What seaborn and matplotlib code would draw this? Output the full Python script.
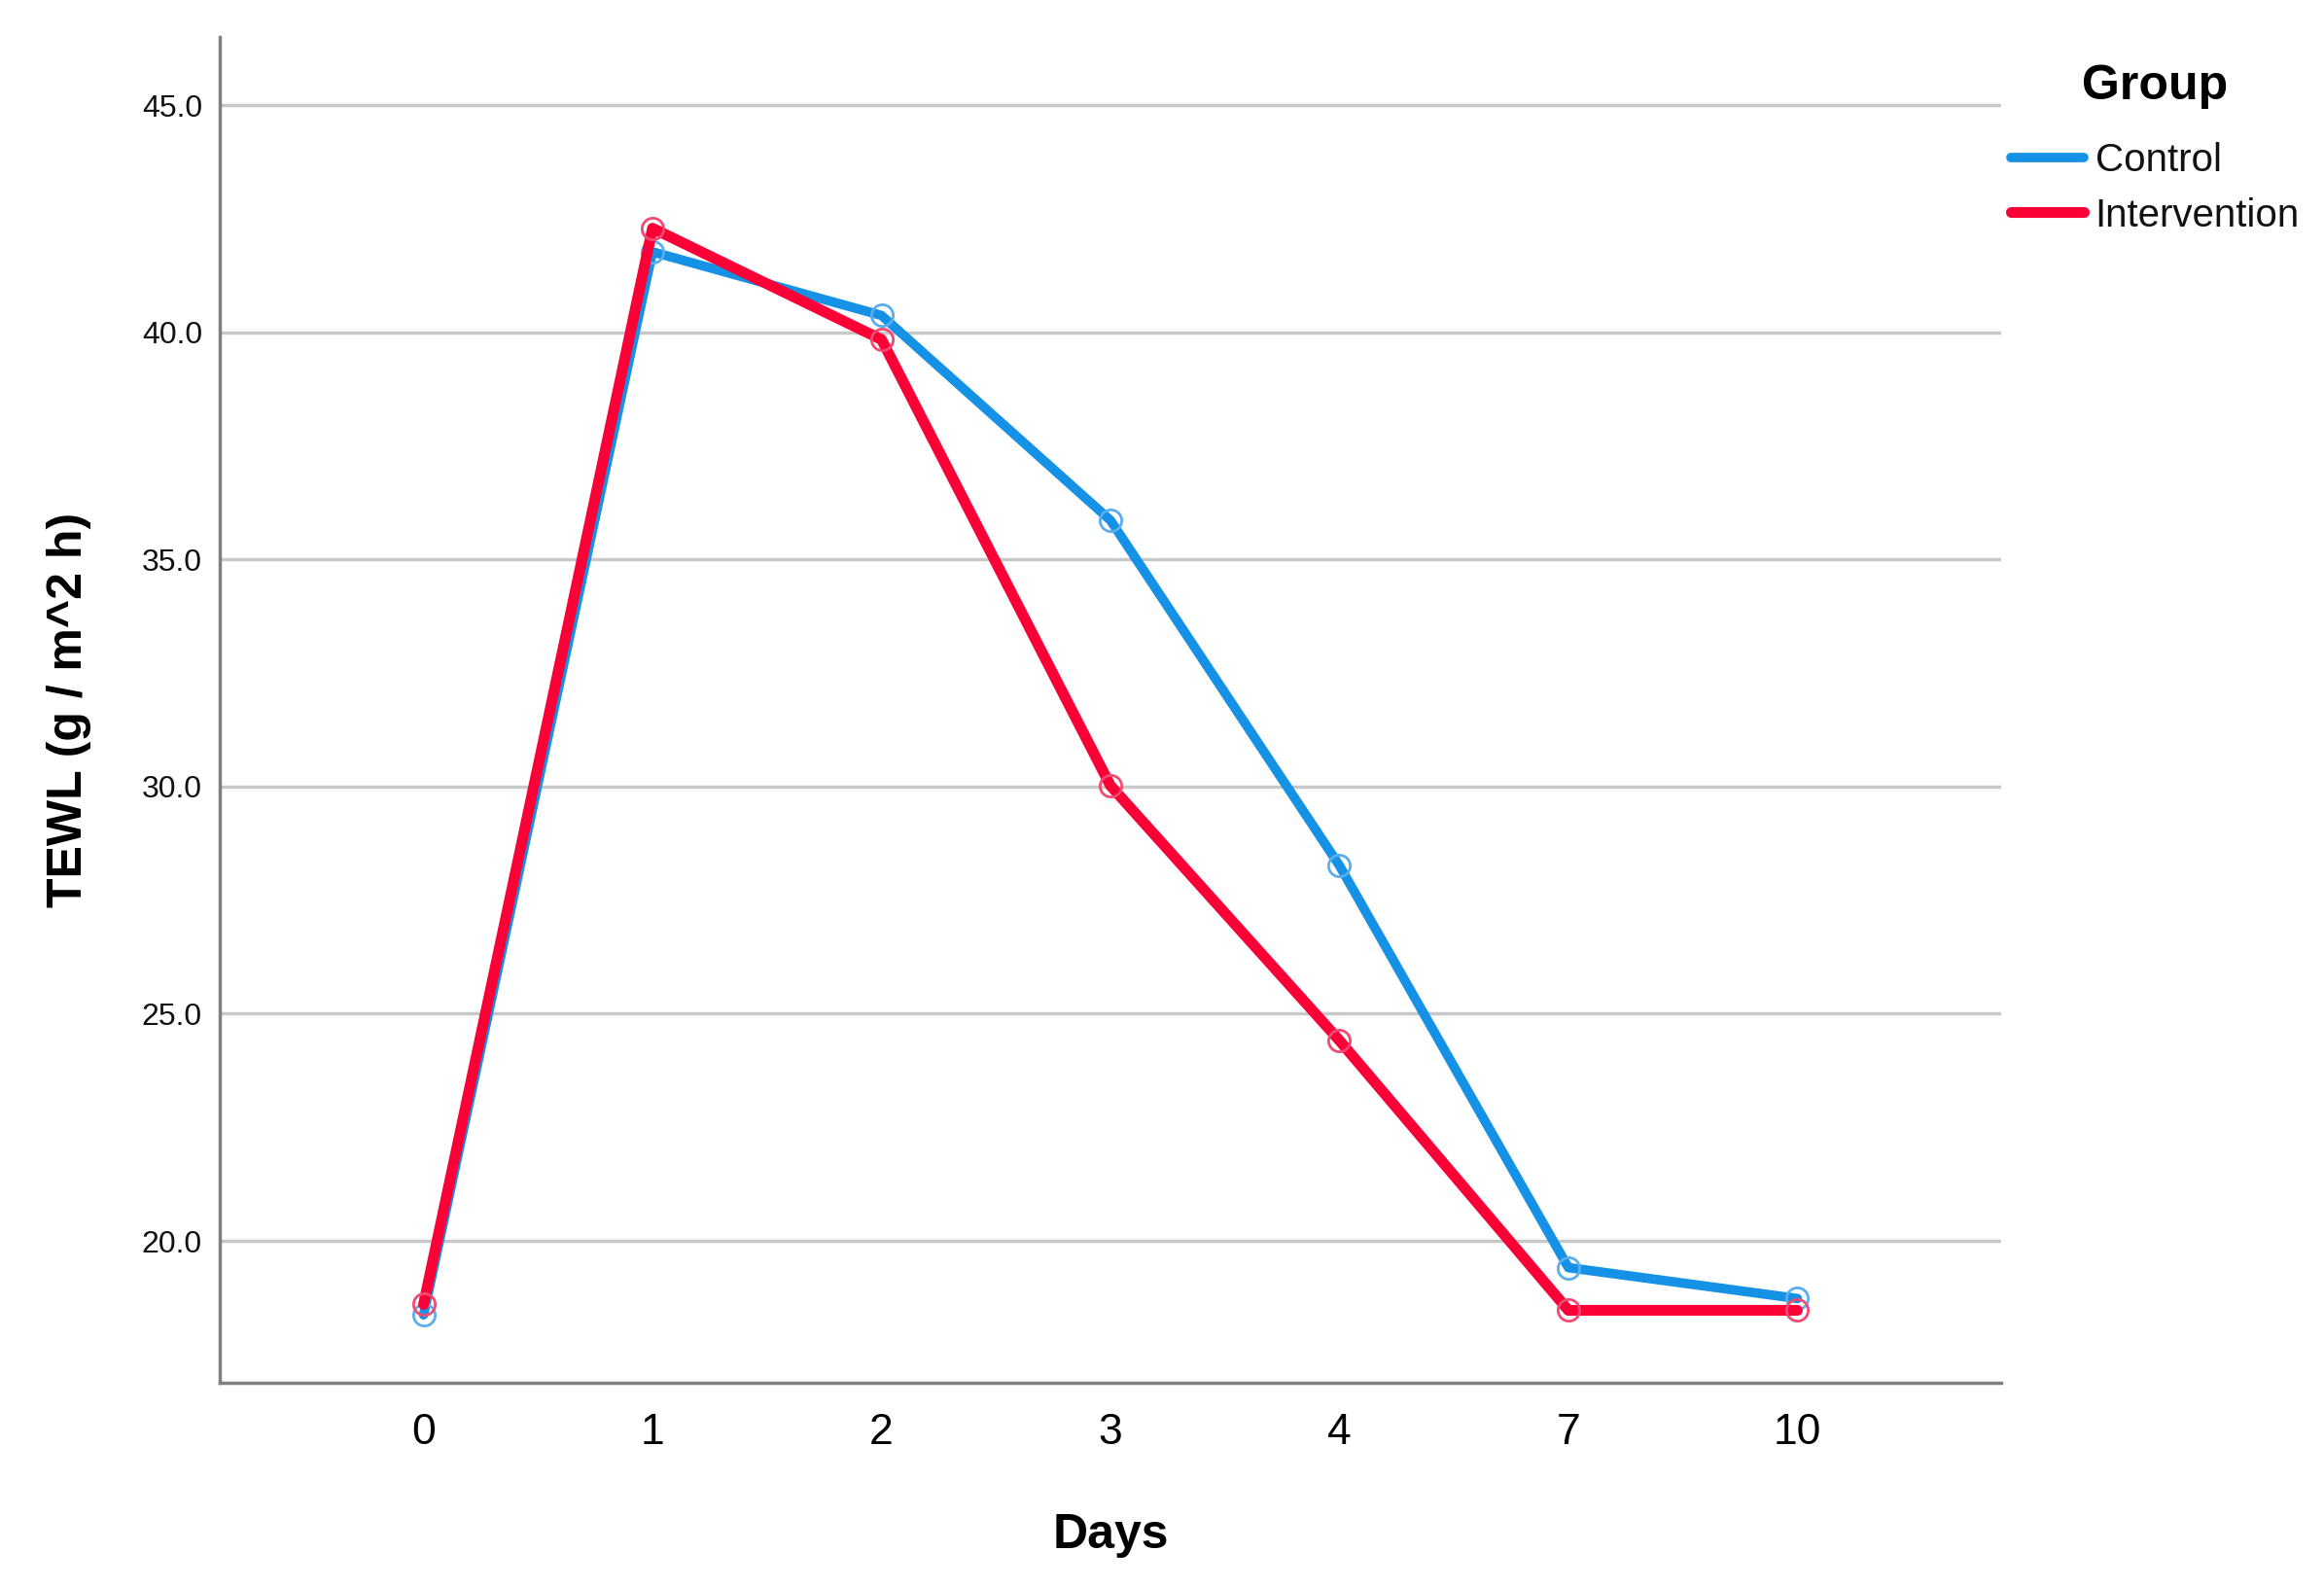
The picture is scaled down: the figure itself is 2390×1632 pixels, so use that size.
import numpy as np
import pandas as pd
import matplotlib
matplotlib.use("Agg")
import matplotlib.pyplot as plt
from matplotlib.lines import Line2D
import seaborn as sns

days = ["0", "1", "2", "3", "4", "7", "10"]
control = [18.37, 41.77, 40.37, 35.86, 28.26, 19.41, 18.73]
intervention = [18.60, 42.29, 39.84, 30.02, 24.41, 18.47, 18.47]
groups = ["Control", "Intervention"]
y_ticks = [20.0, 25.0, 30.0, 35.0, 40.0, 45.0]

line_colors = {"Control": "#1591E6", "Intervention": "#FA0036"}
marker_colors = {"Control": "#5AAEF0", "Intervention": "#F44A72"}
line_widths = {"Control": 7.0, "Intervention": 8.0}

pos = np.arange(len(days))
df = pd.DataFrame({
    "pos": np.concatenate([pos, pos]),
    "TEWL": control + intervention,
    "Group": [groups[0]] * len(days) + [groups[1]] * len(days),
})

sns.set_style("white")
plt.rcParams["font.family"] = ["Liberation Sans", "DejaVu Sans"]
plt.rcParams["text.color"] = "black"
plt.rcParams["axes.labelcolor"] = "black"

fig = plt.figure(figsize=(23.9, 16.32), dpi=100)
ax = fig.add_axes([226 / 2390, 1 - 1422 / 1632, (2058 - 226) / 2390, (1422 - 38) / 1632])

for i, g in enumerate(groups):
    sub = df[df["Group"] == g]
    sns.lineplot(data=sub, x="pos", y="TEWL", ax=ax, color=line_colors[g],
                 linewidth=line_widths[g], marker="o", markersize=16,
                 markerfacecolor="none", markeredgecolor=marker_colors[g],
                 markeredgewidth=2.0, label=g, zorder=3 + i, legend=False)

ax.set_xlim(-0.89, len(days) - 1 + 0.89)
ax.set_ylim(16.875, 46.5)
ax.set_xticks(pos)
ax.set_xticklabels(days, fontsize=32, color="black")
ax.set_yticks(y_ticks)
ax.set_yticklabels([f"{v:.1f}" for v in y_ticks], fontsize=23, color="#111111")
ax.tick_params(axis="x", length=0, pad=22)
ax.tick_params(axis="y", length=0, pad=13)

ax.grid(axis="y", color="#c8c8c8", linewidth=2.5)
ax.grid(axis="x", visible=False)
ax.set_axisbelow(True)
for side in ["top", "right"]:
    ax.spines[side].set_visible(False)
for side in ["left", "bottom"]:
    ax.spines[side].set_color("#808080")
    ax.spines[side].set_linewidth(2.5)

ax.set_xlabel("Days", fontsize=36, fontweight="bold", color="black")
ax.set_ylabel("TEWL (g / m^2 h)", fontsize=36, fontweight="bold", color="black")
ax.xaxis.set_label_coords(0.5, -0.097)
ax.yaxis.set_label_coords(-0.0718, 0.5)

handles = [Line2D([], [], color=line_colors[g], linewidth=line_widths[g]) for g in groups]
leg = fig.legend(handles, groups, loc="upper left", bbox_to_anchor=(2068 / 2390, 1 - 66 / 1632),
                 frameon=False, fontsize=29, handlelength=1.85, handletextpad=0.3,
                 labelspacing=0.46, borderaxespad=0, borderpad=0)
leg.set_title("Group", prop={"size": 36, "weight": "bold"})
leg._legend_box.align = "center"
leg._legend_box.sep = 24.5
for t in leg.get_texts():
    t.set_color("#111111")
leg.get_title().set_color("black")

fig.savefig("out.png", dpi=100, facecolor="white")
